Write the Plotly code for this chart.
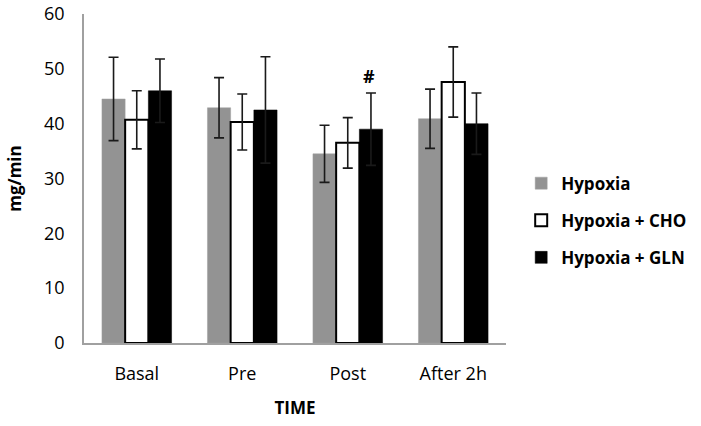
import plotly.graph_objects as go

categories = ["Basal", "Pre", "Post", "After 2h"]
hypoxia = [44.5, 42.9, 34.5, 40.9]
hypoxia_err = [7.6, 5.5, 5.2, 5.4]
cho = [40.7, 40.3, 36.5, 47.6]
cho_err = [5.3, 5.1, 4.6, 6.4]
gln = [46.0, 42.5, 39.0, 40.0]
gln_err = [5.8, 9.7, 6.6, 5.6]

FONT = "Open Sans"

fig = go.Figure()
series = [
    ("Hypoxia", hypoxia, hypoxia_err, "#939393", "#a0a0a0", 0.5),
    ("Hypoxia + CHO", cho, cho_err, "#ffffff", "#000000", 2),
    ("Hypoxia + GLN", gln, gln_err, "#000000", "#000000", 0.5),
]
for i, (name, vals, errs, color, lcol, lw) in enumerate(series):
    fig.add_trace(go.Bar(
        name=name, x=categories, y=vals,
        marker=dict(color=color, line=dict(color=lcol, width=lw)),
        error_y=dict(type="data", array=errs, visible=True, color="#1a1a1a",
                     thickness=1.6, width=5),
        legendgroup=f"g{i}",
    ))

fig.add_annotation(x="Post", y=gln[2] + gln_err[2], xshift=21, yshift=17,
                   text="<b>#</b>", showarrow=False,
                   font=dict(family=FONT, size=18, color="#000"))

fig.update_layout(
    width=701, height=426,
    margin=dict(l=84, r=195, t=14, b=83, autoexpand=False),
    paper_bgcolor="white", plot_bgcolor="white",
    barmode="group", bargap=0.34, bargroupgap=0,
    font=dict(family=FONT, size=18, color="#000"),
    showlegend=True,
    legend=dict(x=1.036, y=0.372, xanchor="left", yanchor="middle",
                font=dict(family=FONT, size=17, color="#000", weight="bold"),
                traceorder="grouped", tracegroupgap=12, itemwidth=30),
    xaxis=dict(showline=True, linecolor="#a0a0a0", linewidth=1.5, automargin=False,
               ticks="", ticklabelstandoff=14, tickfont=dict(size=18, family=FONT),
               title=dict(text="<b>TIME</b>", font=dict(size=17, family=FONT), standoff=18)),
    yaxis=dict(range=[0, 60], dtick=10, showline=True, linecolor="#a0a0a0", automargin=False,
               linewidth=1.5, showgrid=False, zeroline=False, ticks="",
               ticklabelstandoff=14, ticklabeloverflow="allow",
               tickfont=dict(size=18, family=FONT),
               title=dict(text="<b>mg/min</b>", font=dict(size=17, family=FONT), standoff=18)),
)

fig.write_html("out.html", config={"displayModeBar": False},
               post_script="document.body.style.margin='0';document.body.style.overflow='hidden';")
